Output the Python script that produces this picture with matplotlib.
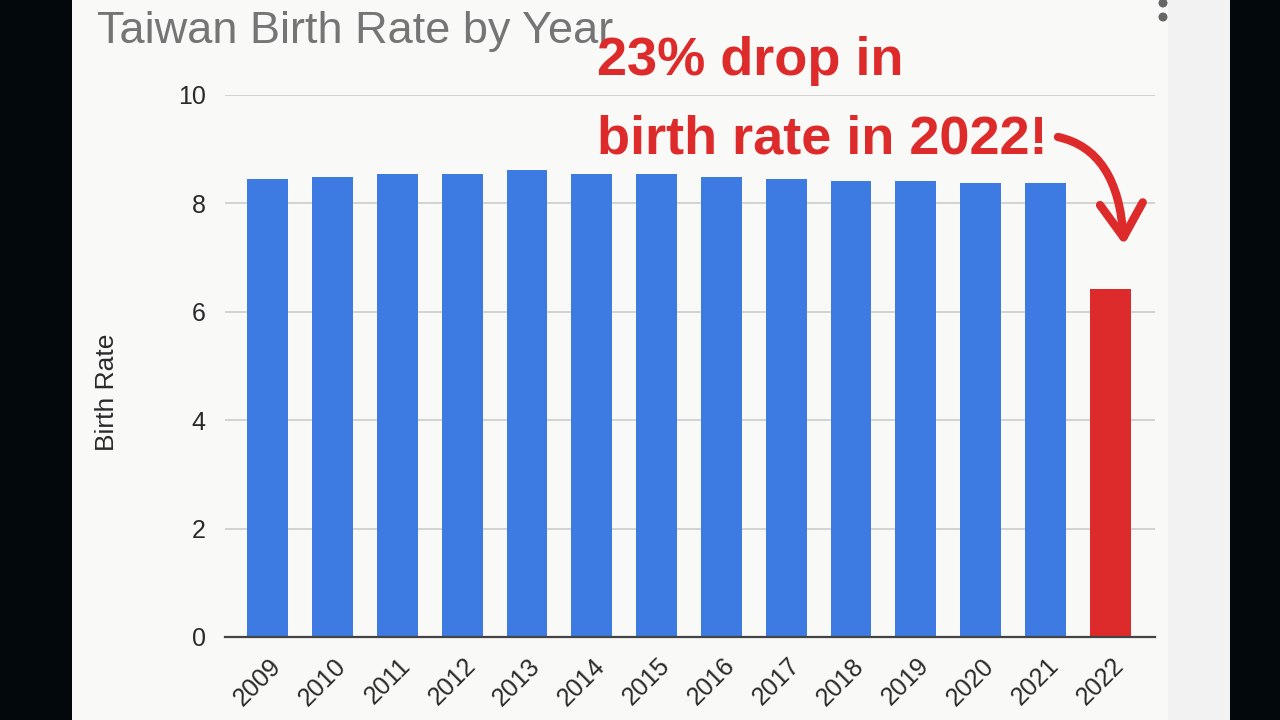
import matplotlib.pyplot as plt
from matplotlib.patches import Rectangle, FancyArrowPatch, Ellipse
from matplotlib.path import Path
import matplotlib.transforms as mtransforms

years = ["2009", "2010", "2011", "2012", "2013", "2014", "2015",
         "2016", "2017", "2018", "2019", "2020", "2021", "2022"]
birth_rate = [8.45, 8.49, 8.54, 8.54, 8.62, 8.54, 8.54,
              8.49, 8.45, 8.41, 8.41, 8.38, 8.38, 6.42]
yticks = [0, 2, 4, 6, 8, 10]

blue = "#3d7be3"
red = "#dd2a2a"
W, H = 1280, 720

plt.rcParams['font.family'] = ['Liberation Sans', 'DejaVu Sans']

fig = plt.figure(figsize=(12.8, 7.2), dpi=100)
fig.patch.set_facecolor("#02080c")


def px(x, y):
    # pixel (from top-left) -> figure fraction
    return x / W, 1 - y / H


# white panel + grey strip on the right
fig.add_artist(Rectangle(px(72, 720), 1096 / W, 720 / H, transform=fig.transFigure,
                         facecolor="#f9f9f7", edgecolor="none", zorder=0))
fig.add_artist(Rectangle(px(1168, 720), 62 / W, 720 / H, transform=fig.transFigure,
                         facecolor="#f2f2f2", edgecolor="none", zorder=0))
for cy in (3, 17):
    fig.add_artist(Ellipse(px(1163, cy), 9 / W, 9 / H, transform=fig.transFigure,
                           facecolor="#666666", edgecolor="none"))

ax = fig.add_axes([225 / W, 83 / H, 930 / W, 542 / H])
ax.set_facecolor("none")

colors = [blue] * (len(years) - 1) + [red]
x = list(range(len(years)))
ax.bar(x, birth_rate, width=0.63, color=colors, zorder=3)

ax.set_xlim(-0.66, 13.69)
ax.set_ylim(0, 10)
ax.set_yticks(yticks)
ax.set_yticklabels([str(t) for t in yticks], fontsize=18, color="#2a2a2a")
ax.yaxis.grid(True, color="#cccccc", linewidth=1.2, zorder=0)
ax.tick_params(axis="y", length=0, pad=14)
ax.tick_params(axis="x", length=0, pad=12)
for s in ["top", "right", "left"]:
    ax.spines[s].set_visible(False)
ax.spines["bottom"].set_color("#444444")
ax.spines["bottom"].set_linewidth(1.6)
ax.spines["bottom"].set_zorder(4)

ax.set_xticks(x)
ax.set_xticklabels(years, rotation=45, ha="right", va="top",
                   rotation_mode="anchor", fontsize=18, color="#2a2a2a")
offset = mtransforms.ScaledTranslation(1 / 100, 0, fig.dpi_scale_trans)
for lbl in ax.get_xticklabels():
    lbl.set_transform(lbl.get_transform() + offset)

fig.text(107 / W, 1 - 392 / H, "Birth Rate", rotation=90, ha="center", va="center",
         fontsize=19, color="#2a2a2a")

fig.text(97 / W, 1 - 31 / H, "Taiwan Birth Rate by Year", ha="left", va="center",
         fontsize=32.5, color="#757575")

fig.text(597 / W, 1 - 61 / H, "23% drop in", ha="left", va="center",
         fontsize=39, color=red, fontweight="bold")
fig.text(597 / W, 1 - 139 / H, "birth rate in 2022!", ha="left", va="center",
         fontsize=39, color=red, fontweight="bold")

arrow_path = Path([px(1058, 137), px(1118, 150), px(1124, 245)],
                  [Path.MOVETO, Path.CURVE3, Path.CURVE3])
arrow = FancyArrowPatch(path=arrow_path, transform=fig.transFigure,
                        arrowstyle="->,head_length=1.1,head_width=0.7",
                        mutation_scale=22, color=red, linewidth=6,
                        capstyle="round", joinstyle="round")
fig.add_artist(arrow)

fig.savefig("out.png", dpi=100, facecolor=fig.get_facecolor())
